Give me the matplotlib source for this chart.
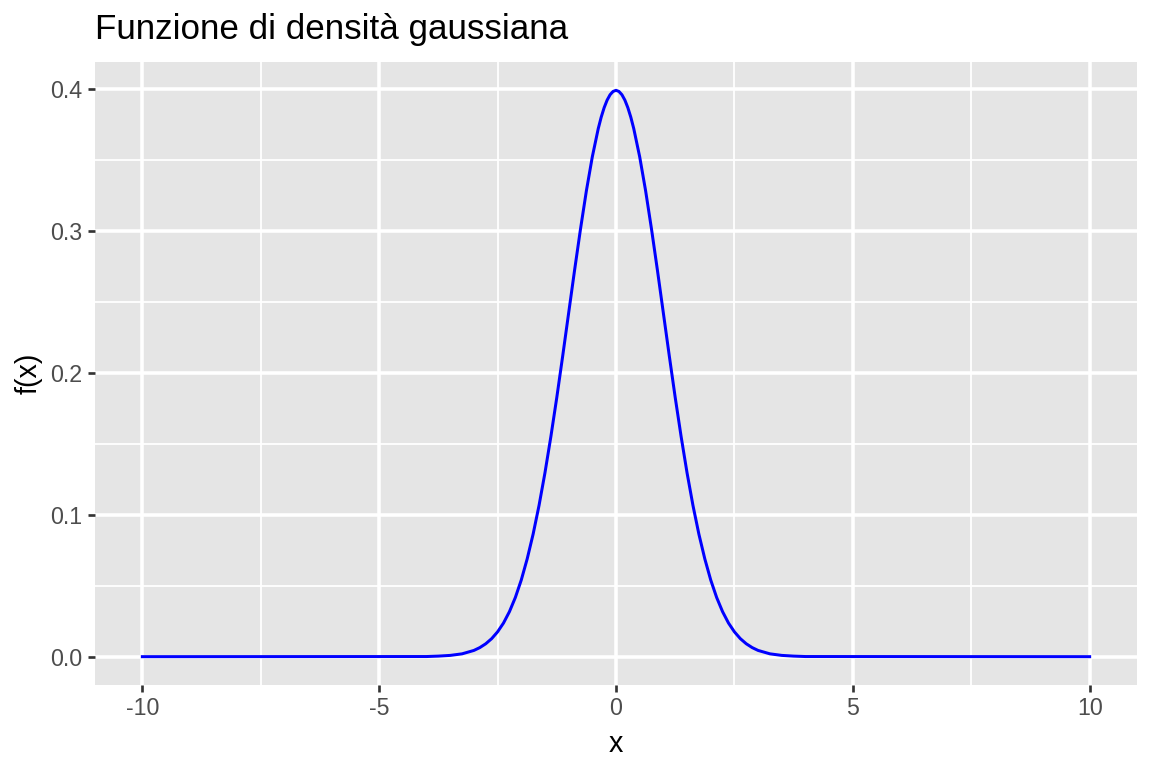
import matplotlib.pyplot as plt

# valori (densita' normale standard), meta' destra
x_half = [0.0, 0.0625, 0.125, 0.1875, 0.25, 0.3125, 0.375, 0.5, 0.625, 0.75,
          0.875, 1.0, 1.125, 1.25, 1.375, 1.5, 1.625, 1.75, 1.875, 2.0, 2.125,
          2.25, 2.375, 2.5, 2.625, 2.75, 2.875, 3.0, 3.25, 3.5, 3.75, 4.0, 10]
y_half = [0.3989, 0.3981, 0.3958, 0.3920, 0.3867, 0.3800, 0.3719, 0.3521,
          0.3282, 0.3011, 0.2721, 0.2420, 0.2119, 0.1826, 0.1550, 0.1295,
          0.1065, 0.0863, 0.0689, 0.0540, 0.0417, 0.0317, 0.0237, 0.0175,
          0.0127, 0.0091, 0.0064, 0.0044, 0.0020, 0.0009, 0.0004, 0.0001, 0.0]
# la curva e' simmetrica attorno a 0
x_vals = [-v for v in x_half[:0:-1]] + x_half
y_vals = y_half[:0:-1] + y_half

x_ticks = [-10, -5, 0, 5, 10]
y_ticks = [0.0, 0.1, 0.2, 0.3, 0.4]

plt.rcParams['font.family'] = ['Liberation Sans', 'DejaVu Sans']

W, H = 1152, 768
fig = plt.figure(figsize=(W / 180, H / 180), dpi=180)
# pannello in pixel: x 95..1137, y 62..685
ax = fig.add_axes([95 / W, 1 - 685 / H, (1137 - 95) / W, (685 - 62) / H])
ax.set_facecolor('#E5E5E5')
for s in ax.spines.values():
    s.set_visible(False)

ax.set_xlim(-11, 11)
ax.set_ylim(-0.01995, 0.41885)

for v in [-7.5, -2.5, 2.5, 7.5]:
    ax.axvline(v, color='white', lw=0.71, zorder=1)
for v in [0.05, 0.15, 0.25, 0.35]:
    ax.axhline(v, color='white', lw=0.71, zorder=1)
for v in x_ticks:
    ax.axvline(v, color='white', lw=1.42, zorder=1)
for v in y_ticks:
    ax.axhline(v, color='white', lw=1.42, zorder=1)

ax.plot(x_vals, y_vals, color='blue', lw=1.2, zorder=3)

ax.set_xticks(x_ticks)
ax.set_xticklabels([str(t) for t in x_ticks])
ax.set_yticks(y_ticks)
ax.set_yticklabels(['%.1f' % t for t in y_ticks])
ax.tick_params(axis='both', length=2.75, width=1.07, color='#333333',
               labelcolor='#4D4D4D', labelsize=9.3, pad=2.2)

ax.set_xlabel('x', fontsize=11.5, color='black', labelpad=4)
ax.set_ylabel('f(x)', fontsize=11.5, color='black', labelpad=3)
ax.set_title('Funzione di densità gaussiana', fontsize=14, loc='left',
             color='black', pad=9)

fig.savefig('out.png', dpi=180)
